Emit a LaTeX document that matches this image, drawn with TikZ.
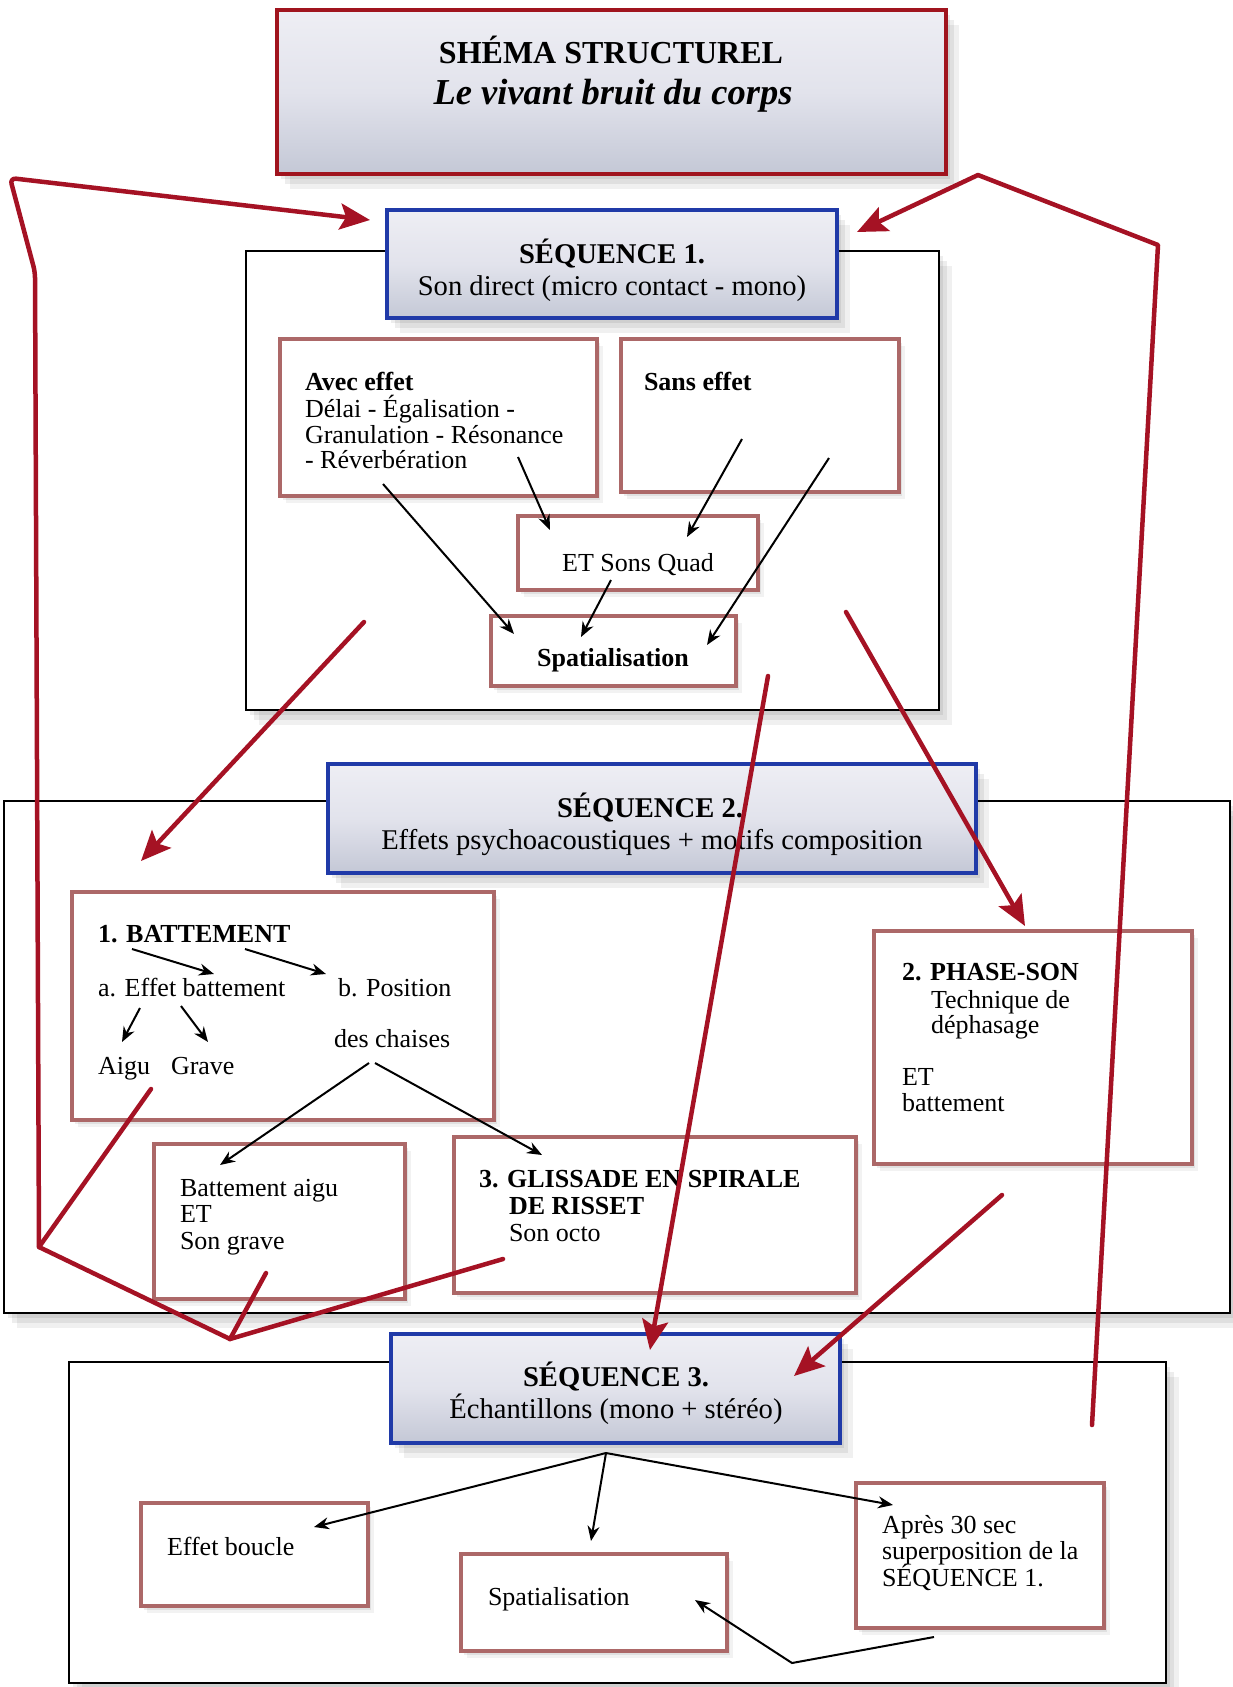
\documentclass[tikz,border=0pt]{standalone}
\usepackage{fontspec}
\setmainfont{Liberation Serif}
\usetikzlibrary{arrows.meta,shadows}

\definecolor{redline}{RGB}{165,18,36}
\definecolor{titlered}{RGB}{160,20,30}
\definecolor{seqblue}{RGB}{32,58,168}
\definecolor{boxbrown}{RGB}{172,104,104}
\definecolor{hdtop}{RGB}{238,238,244}
\definecolor{hdmid}{RGB}{226,227,236}
\definecolor{hdbot}{RGB}{196,200,214}

\tikzset{
  every node/.style={inner sep=0pt, outer sep=0pt},
  ptxt/.style={font=\fontsize{26}{26}\selectfont, anchor=base west},
  btxt/.style={font=\fontsize{26}{26}\selectfont\bfseries, anchor=base west},
  cbtxt/.style={font=\fontsize{26}{26}\selectfont\bfseries, anchor=base},
  cptxt/.style={font=\fontsize{26}{26}\selectfont, anchor=base},
  hdtxt/.style={font=\fontsize{28.6}{30}\selectfont, anchor=base},
  hdbtxt/.style={font=\fontsize{28.6}{30}\selectfont\bfseries, anchor=base},
  titletxt/.style={font=\fontsize{32}{34}\selectfont\bfseries, anchor=base},
  titleit/.style={font=\fontsize{36.5}{38}\selectfont\bfseries\itshape, anchor=base},
  box/.style={anchor=north west, rectangle},
  softshadow/.style={
    drop shadow={shadow xshift=4pt, shadow yshift=-5pt, opacity=0.07, fill=black},
    drop shadow={shadow xshift=8pt, shadow yshift=-10pt, opacity=0.07, fill=black},
    drop shadow={shadow xshift=13pt, shadow yshift=-15pt, opacity=0.06, fill=black}},
  outerbox/.style={box, draw=black, line width=1.6pt, fill=white, softshadow},
  hdbox/.style={box, draw=seqblue, line width=4pt, top color=hdtop, bottom color=hdbot, middle color=hdmid, softshadow},
  titlebox/.style={box, draw=titlered, line width=4.5pt, top color=hdtop, bottom color=hdbot, middle color=hdmid, softshadow},
  inbox/.style={box, draw=boxbrown, line width=3.5pt, fill=white,
    drop shadow={shadow xshift=3pt, shadow yshift=-4pt, opacity=0.07, fill=black},
    drop shadow={shadow xshift=6pt, shadow yshift=-7pt, opacity=0.05, fill=black}},
  blk/.style={draw=black, line width=2pt, -{Stealth[length=15pt,width=12pt]}},
  redl/.style={draw=redline, line width=4.5pt, line cap=round, line join=round},
  reda/.style={redl, -{Stealth[length=30pt,width=26pt,inset=6pt]}},
}

\begin{document}
\begin{tikzpicture}[x=1pt,y=-1pt]
\useasboundingbox (0,0) rectangle (1232,1687);
\fill[white] (0,0) rectangle (1232,1687);

% ---------- title ----------
\node[titlebox, minimum width=669pt, minimum height=164pt] (title) at (277,10) {};
\node[titletxt] (t1) at (611,63) {SHÉMA STRUCTUREL};
\node[titleit] (t2) at (613,104) {Le vivant bruit du corps};

% ---------- outer sequence frames ----------
\node[outerbox, minimum width=693pt, minimum height=459pt] (s1o) at (246,251) {};
\node[outerbox, minimum width=1226pt, minimum height=512pt] (s2o) at (4,801) {};
\node[outerbox, minimum width=1097pt, minimum height=321pt] (s3o) at (69,1362) {};

% ---------- headers ----------
\node[hdbox, minimum width=450pt, minimum height=108pt] (s1h) at (387,210) {};
\node[hdbtxt] (s1a) at (612,263) {SÉQUENCE 1.};
\node[hdtxt] (s1b) at (612,295) {Son direct (micro contact - mono)};

\node[hdbox, minimum width=648pt, minimum height=109pt] (s2h) at (328,764) {};
\node[hdbtxt] (s2a) at (650,817) {SÉQUENCE 2.};
\node[hdtxt] (s2b) at (652,849) {Effets psychoacoustiques + motifs composition};

\node[hdbox, minimum width=449pt, minimum height=109pt] (s3h) at (391,1334) {};
\node[hdbtxt] (s3a) at (616,1386) {SÉQUENCE 3.};
\node[hdtxt] (s3b) at (616,1418) {Échantillons (mono + stéréo)};

% ---------- sequence 1 boxes ----------
\node[inbox, minimum width=317pt, minimum height=157pt] (avec) at (280,339) {};
\node[btxt] (avec1) at (305,390) {Avec effet};
\node[ptxt] (avec2) at (305,417) {Délai - Égalisation -};
\node[ptxt] (avec3) at (305,443) {Granulation - Résonance};
\node[ptxt] (avec4) at (305,468) {- Réverbération};

\node[inbox, minimum width=278pt, minimum height=153pt] (sans) at (621,339) {};
\node[btxt] (sans1) at (644,390) {Sans effet};

\node[inbox, minimum width=240pt, minimum height=74pt] (etq) at (518,516) {};
\node[cptxt] (etq1) at (638,571) {ET Sons Quad};

\node[inbox, minimum width=245pt, minimum height=70pt] (spa1) at (491,616) {};
\node[cbtxt] (spa1t) at (613,666) {Spatialisation};

% ---------- sequence 2 boxes ----------
\node[inbox, minimum width=422pt, minimum height=228pt] (batt) at (72,892) {};
\node[btxt] (b1) at (98,942) {1. BATTEMENT};
\node[ptxt] (b2) at (98,996) {a. Effet battement};
\node[ptxt] (b3) at (338,996) {b. Position};
\node[ptxt] (b4) at (334,1047) {des chaises};
\node[ptxt] (b5) at (98,1074) {Aigu};
\node[ptxt] (b6) at (171,1074) {Grave};

\node[inbox, minimum width=318pt, minimum height=233pt] (phase) at (874,931) {};
\node[btxt] (p1) at (902,980) {2. PHASE-SON};
\node[ptxt] (p2) at (931,1008) {Technique de};
\node[ptxt] (p3) at (931,1033) {déphasage};
\node[ptxt] (p4) at (902,1085) {ET};
\node[ptxt] (p5) at (902,1111) {battement};

\node[inbox, minimum width=251pt, minimum height=155pt] (baig) at (154,1144) {};
\node[ptxt] (ba1) at (180,1196) {Battement aigu};
\node[ptxt] (ba2) at (180,1222) {ET};
\node[ptxt] (ba3) at (180,1249) {Son grave};

\node[inbox, minimum width=402pt, minimum height=156pt] (gliss) at (454,1137) {};
\node[btxt] (g1) at (479,1187) {3. GLISSADE EN SPIRALE};
\node[btxt] (g2) at (509,1214) {DE RISSET};
\node[ptxt] (g3) at (509,1241) {Son octo};

% ---------- sequence 3 boxes ----------
\node[inbox, minimum width=227pt, minimum height=103pt] (boucle) at (141,1503) {};
\node[ptxt] (bo1) at (167,1555) {Effet boucle};

\node[inbox, minimum width=266pt, minimum height=97pt] (spa3) at (461,1554) {};
\node[ptxt] (sp3t) at (488,1605) {Spatialisation};

\node[inbox, minimum width=248pt, minimum height=145pt] (apres) at (856,1483) {};
\node[ptxt] (ap1) at (882,1533) {Après 30 sec};
\node[ptxt] (ap2) at (882,1559) {superposition de la};
\node[ptxt] (ap3) at (882,1586) {SÉQUENCE 1.};

% ---------- black connectors ----------
\coordinate (k1a) at (383,484);  \coordinate (k1b) at (514,634);
\coordinate (k2a) at (518,457);  \coordinate (k2b) at (550,530);
\coordinate (k3a) at (742,439);  \coordinate (k3b) at (687,537);
\coordinate (k4a) at (829,458);  \coordinate (k4b) at (707,645);
\coordinate (k5a) at (611,580);  \coordinate (k5b) at (581,637);
\draw[blk] (k1a) -- (k1b);
\draw[blk] (k2a) -- (k2b);
\draw[blk] (k3a) -- (k3b);
\draw[blk] (k4a) -- (k4b);
\draw[blk] (k5a) -- (k5b);

\coordinate (m1a) at (132,949);  \coordinate (m1b) at (214,974);
\coordinate (m2a) at (245,949);  \coordinate (m2b) at (326,974);
\coordinate (m3a) at (140,1008); \coordinate (m3b) at (122,1042);
\coordinate (m4a) at (181,1006); \coordinate (m4b) at (208,1042);
\coordinate (m5a) at (369,1063); \coordinate (m5b) at (220,1165);
\coordinate (m6a) at (375,1063); \coordinate (m6b) at (542,1155);
\draw[blk] (m1a) -- (m1b);
\draw[blk] (m2a) -- (m2b);
\draw[blk] (m3a) -- (m3b);
\draw[blk] (m4a) -- (m4b);
\draw[blk] (m5a) -- (m5b);
\draw[blk] (m6a) -- (m6b);

\coordinate (o3) at (606,1453);
\coordinate (n1) at (314,1527);
\coordinate (n2) at (591,1541);
\coordinate (n3) at (893,1505);
\coordinate (q1) at (934,1637);
\coordinate (q2) at (792,1663);
\coordinate (q3) at (695,1600);
\draw[blk] (o3) -- (n1);
\draw[blk] (o3) -- (n2);
\draw[blk] (o3) -- (n3);
\draw[blk] (q1) -- (q2) -- (q3);

% ---------- red connectors ----------
\coordinate (r1a) at (364,622);  \coordinate (r1b) at (141,861);
\coordinate (r2a) at (846,612);  \coordinate (r2b) at (1025,926);
\coordinate (r3a) at (768,676);  \coordinate (r3b) at (650,1350);
\coordinate (r4a) at (1002,1195);\coordinate (r4b) at (794,1376);
\draw[reda] (r1a) -- (r1b);
\draw[reda] (r2a) -- (r2b);
\draw[reda] (r3a) -- (r3b);
\draw[reda] (r4a) -- (r4b);

\coordinate (la) at (151,1089);
\coordinate (lj) at (39,1247);
\coordinate (lb) at (230,1339);
\coordinate (lc) at (266,1273);
\coordinate (ld) at (503,1259);
\coordinate (lu) at (35,272);
\coordinate (lt) at (10,178);
\coordinate (le) at (370,220);
\draw[redl] (la) -- (lj) -- (lb);
\draw[redl] (lc) -- (lb);
\draw[redl] (ld) -- (lb);
\draw[reda, rounded corners=6pt] (lj) -- (lu) -- (lt) -- (le);

\coordinate (ra) at (1092,1425);
\coordinate (rv) at (1158,245);
\coordinate (rt) at (978,175);
\coordinate (re) at (857,232);
\draw[reda] (ra) -- (rv) -- (rt) -- (re);
\end{tikzpicture}
\end{document}
